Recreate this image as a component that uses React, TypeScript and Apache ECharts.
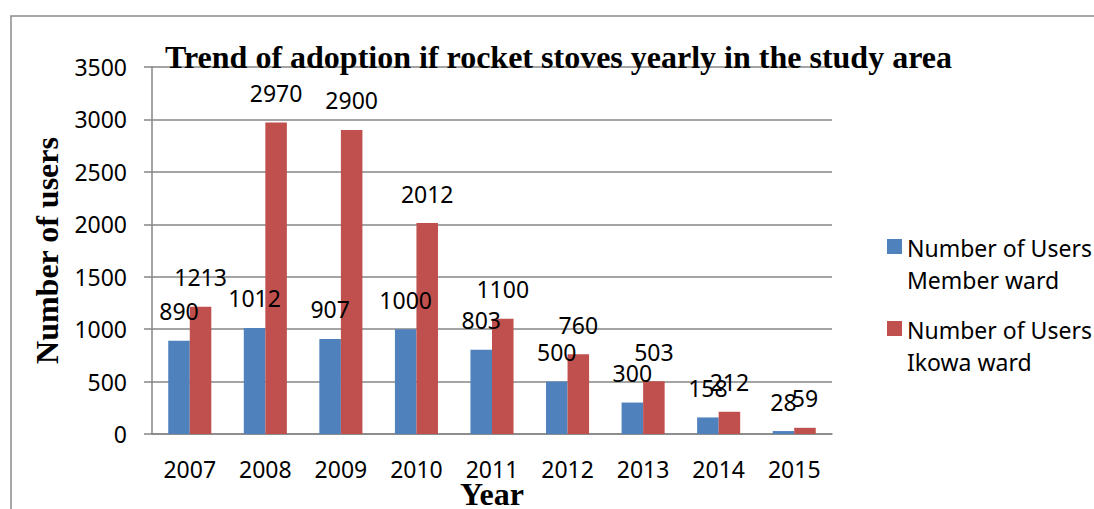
import React, { useEffect, useRef } from "react";
import * as echarts from "echarts";

const years = ["2007", "2008", "2009", "2010", "2011", "2012", "2013", "2014", "2015"];
const memberWard = [890, 1012, 907, 1000, 803, 500, 300, 158, 28];
const ikowaWard = [1213, 2970, 2900, 2012, 1100, 760, 503, 212, 59];
const seriesNames = ["Number of Users\nMember ward", "Number of Users\nIkowa ward"];
const titleText = "Trend of adoption if rocket stoves yearly in the study area";

const SANS = "'Noto Sans', sans-serif";
const SERIF = "'Liberation Serif', 'Times New Roman', serif";
const GRAY = "#868686";

export default function App() {
  const ref = useRef<HTMLDivElement>(null);
  useEffect(() => {
    if (!ref.current) return;
    const chart = echarts.init(ref.current, undefined, { renderer: "svg" });
    const labelCfg = {
      show: true,
      position: "top",
      distance: 18,
      color: "#000",
      fontFamily: SANS,
      fontSize: 23,
    };
    chart.setOption({
      animation: false,
      backgroundColor: "#fff",
      title: {
        text: titleText,
        left: 165,
        top: 41,
        padding: 0,
        textStyle: { fontFamily: SERIF, fontWeight: "bold", fontSize: 32, color: "#000" },
      },
      graphic: [
        {
          type: "rect",
          shape: { x: 11, y: 16, width: 1200, height: 700 },
          style: { fill: "none", stroke: "#8c8c8c", lineWidth: 1.5 },
          silent: true,
          z: -1,
        },
      ],
      legend: {
        orient: "vertical",
        left: 887,
        top: 231,
        padding: 0,
        icon: "path://M0,0H15V15H0Z M0,50H15V50.1H0Z",
        itemWidth: 15,
        itemHeight: 50.1,
        itemGap: 16,
        data: seriesNames,
        textStyle: {
          fontFamily: SANS,
          fontSize: 23,
          color: "#000",
          lineHeight: 33,
        },
      },
      grid: {
        left: 152,
        right: 262,
        top: 67,
        bottom: 75,
        containLabel: false,
        outerBoundsMode: "none",
      },
      xAxis: {
        type: "category",
        data: years,
        name: "Year",
        nameLocation: "middle",
        nameGap: 44,
        nameMoveOverlap: false,
        nameTextStyle: { fontFamily: SERIF, fontWeight: "bold", fontSize: 32, color: "#000" },
        axisLine: { show: true, lineStyle: { color: GRAY, width: 1.5 } },
        axisTick: { show: false },
        axisLabel: { margin: 23, fontFamily: SANS, fontSize: 23, color: "#000" },
      },
      yAxis: {
        type: "value",
        min: 0,
        max: 3500,
        interval: 500,
        name: "Number of users",
        nameLocation: "middle",
        nameGap: 89,
        nameRotate: 90,
        nameMoveOverlap: false,
        nameTextStyle: { fontFamily: SERIF, fontWeight: "bold", fontSize: 32, color: "#000" },
        axisLine: { show: true, lineStyle: { color: GRAY, width: 1.5 } },
        axisTick: { show: true, inside: false, length: 8, lineStyle: { color: GRAY, width: 1.5 } },
        splitLine: { show: true, lineStyle: { color: GRAY, width: 1.5 } },
        axisLabel: {
          margin: 25,
          fontFamily: SANS,
          fontSize: 23,
          color: "#000",
          formatter: (v: number) => String(v),
        },
      },
      series: [
        {
          name: seriesNames[0],
          type: "bar",
          data: memberWard,
          barGap: "0%",
          barCategoryGap: "43%",
          itemStyle: { color: "#4F81BD" },
          label: labelCfg,
        },
        {
          name: seriesNames[1],
          type: "bar",
          data: ikowaWard,
          barGap: "0%",
          barCategoryGap: "43%",
          itemStyle: { color: "#C0504D" },
          label: labelCfg,
        },
      ],
    });
    return () => chart.dispose();
  }, []);
  return (
    <div
      ref={ref}
      style={{ position: "fixed", left: 0, top: 0, width: 1094, height: 509, background: "#fff" }}
    />
  );
}
